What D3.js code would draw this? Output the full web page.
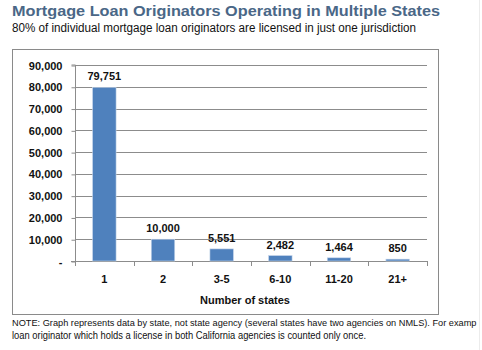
<!DOCTYPE html>
<html><head><meta charset="utf-8">
<script src="https://cdn.jsdelivr.net/npm/d3@7"></script>
<style>
html,body{margin:0;padding:0;background:#fff;overflow:hidden;}
svg{display:block;}
text{font-family:"Liberation Sans",Arial,sans-serif;}
</style></head>
<body>
<svg id="c" width="482" height="350"></svg>
<script>
const title = "Mortgage Loan Originators Operating in Multiple States";
const subtitle = "80% of individual mortgage loan originators are licensed in just one jurisdiction";
const categories = ["1","2","3-5","6-10","11-20","21+"];
const values = [79751, 10000, 5551, 2482, 1464, 850];
const yTicks = [0,10000,20000,30000,40000,50000,60000,70000,80000,90000];
const xTitle = "Number of states";
const noteLine1 = "NOTE: Graph represents data by state, not state agency (several states have two agencies on NMLS). For examp";
const noteLine2 = "loan originator which holds a license in both California agencies is counted only once.";

const svg = d3.select("#c");
const fmt = d3.format(",");

// Title and subtitle
svg.append("text").attr("x",12).attr("y",15.5)
  .attr("font-size",15).attr("font-weight","bold").attr("fill","#4a6787")
  .attr("textLength",428).attr("lengthAdjust","spacingAndGlyphs").text(title);
svg.append("text").attr("x",12).attr("y",31.5)
  .attr("font-size",12).attr("fill","#111")
  .attr("textLength",404).attr("lengthAdjust","spacingAndGlyphs").text(subtitle);

// chart box
svg.append("rect").attr("x",12.5).attr("y",49.5).attr("width",426).attr("height",265)
  .attr("fill","#fff").attr("stroke","#8a8a8a").attr("stroke-width",1);

// right faint stripe
svg.append("line").attr("x1",479.5).attr("x2",479.5).attr("y1",0).attr("y2",350)
  .attr("stroke","#ececec");

const pLeft = 75, pRight = 427, pTop = 65, pBottom = 261;
const x = d3.scaleBand().domain(categories).range([pLeft,pRight]).paddingInner(0.6).paddingOuter(0.3);
const xb = d3.scaleBand().domain(categories).range([pLeft,pRight]);
const y = d3.scaleLinear().domain([0,90000]).range([pBottom,pTop]);

// gridlines
svg.append("g").selectAll("line").data(yTicks.filter(d=>d>0)).join("line")
  .attr("x1",pLeft).attr("x2",pRight)
  .attr("y1",d=>Math.round(y(d))+0.5).attr("y2",d=>Math.round(y(d))+0.5)
  .attr("stroke","#8c8c8c").attr("stroke-width",1.2);

// y axis
const yAxis = d3.axisLeft(y).tickValues(yTicks).tickSize(4).tickPadding(9)
  .tickFormat(d=> d===0 ? "-" : fmt(d));
const gy = svg.append("g").attr("transform",`translate(${pLeft+0.5},0.5)`).call(yAxis);
gy.select(".domain").attr("stroke","#8c8c8c").attr("d",`M-4,${pTop-0.5}H0V${pBottom}`);
gy.selectAll(".tick line").attr("stroke","#8c8c8c");
gy.selectAll(".tick text").attr("font-size",11).attr("fill","#111")
  .attr("font-family","Liberation Sans, Arial, sans-serif").attr("font-weight","bold");

// x axis
const xAxis = d3.axisBottom(xb).tickSize(0).tickPadding(14);
const gx = svg.append("g").attr("transform",`translate(0,${pBottom+0.5})`).call(xAxis);
gx.select(".domain").attr("stroke","#8c8c8c").attr("d",`M${pLeft-4},0H${pRight}`);
gx.selectAll(".tick text").attr("font-size",11).attr("fill","#111")
  .attr("font-family","Liberation Sans, Arial, sans-serif").attr("font-weight","bold");
// category boundary ticks
const bounds = categories.map(c=>xb(c)).concat([pRight]);
svg.append("g").selectAll("line").data(bounds).join("line")
  .attr("x1",d=>Math.round(d)+0.5).attr("x2",d=>Math.round(d)+0.5)
  .attr("y1",pBottom).attr("y2",pBottom+5).attr("stroke","#8c8c8c");

// bars
svg.append("g").selectAll("rect").data(values).join("rect")
  .attr("x",(d,i)=>x(categories[i])).attr("width",x.bandwidth())
  .attr("y",d=>y(d)).attr("height",d=>pBottom-y(d))
  .attr("fill","#4f81bd").attr("stroke","#c6d5ea").attr("stroke-width",0.6);

// data labels
svg.append("g").selectAll("text").data(values).join("text")
  .attr("x",(d,i)=>x(categories[i])+x.bandwidth()/2).attr("y",d=>y(d)-7)
  .attr("text-anchor","middle").attr("font-size",11).attr("font-weight","bold").attr("fill","#111")
  .text(d=>fmt(d));

// x title
svg.append("text").attr("x",245).attr("y",304).attr("text-anchor","middle")
  .attr("font-size",11).attr("font-weight","bold").attr("fill","#111").text(xTitle);

// note: fit line 1 to the visible width by font size
const n1 = svg.append("text").attr("x",12).attr("y",326).attr("font-size",10).attr("fill","#111").text(noteLine1);
const w1 = n1.node().getComputedTextLength();
n1.attr("font-size", 10*465/w1);
svg.append("text").attr("x",12).attr("y",338.5).attr("font-size",10).attr("fill","#111")
  .attr("textLength",354).attr("lengthAdjust","spacingAndGlyphs").text(noteLine2);
</script>
</body></html>
